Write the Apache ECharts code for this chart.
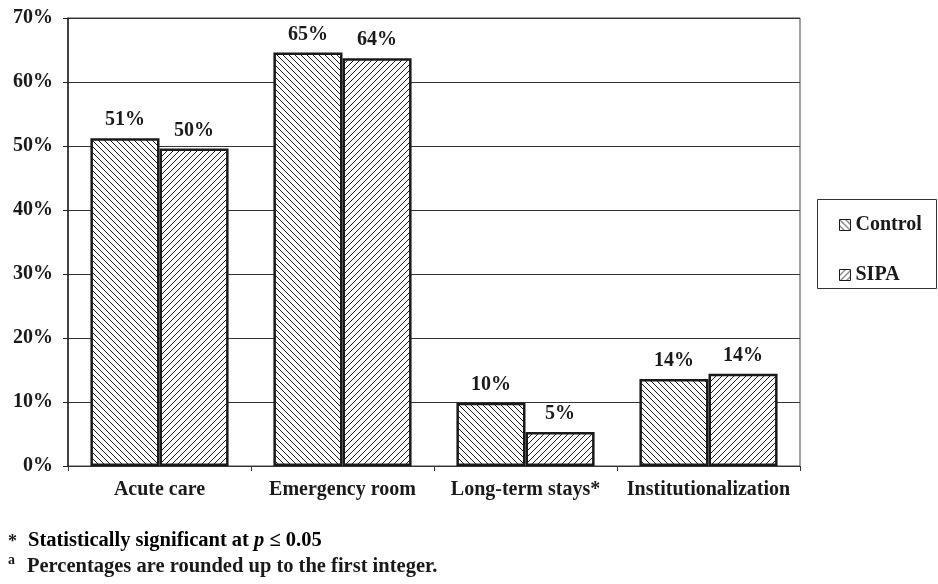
<!DOCTYPE html>
<html>
<head>
<meta charset="utf-8">
<script src="https://cdn.jsdelivr.net/npm/echarts@6/dist/echarts.min.js"></script>
<style>
  html, body { margin: 0; padding: 0; background: #fff; }
  #chart { width: 938px; height: 584px; }
</style>
</head>
<body>
<div id="chart"></div>
<script>
// Service use by group (percent of patients)
const categories = ['Acute care', 'Emergency room', 'Long-term stays*', 'Institutionalization'];
const controlValues = [51.2, 64.6, 9.9, 13.6];
const sipaValues = [49.6, 63.7, 5.3, 14.4];
const seriesNames = ['Control', 'SIPA'];
const yTicks = [0, 10, 20, 30, 40, 50, 60, 70];

const FONT = '"Liberation Serif", "Times New Roman", serif';
const INK = '#1a1a1a';

// Diagonal hatch fill: '\' for Control, '/' for SIPA
function hatch(backslash) {
  const s = 6;
  const c = document.createElement('canvas');
  c.width = s; c.height = s;
  const ctx = c.getContext('2d');
  ctx.fillStyle = '#ffffff';
  ctx.fillRect(0, 0, s, s);
  ctx.strokeStyle = INK;
  ctx.lineWidth = 1;
  ctx.beginPath();
  for (let k = -1; k <= 1; k++) {
    if (backslash) {
      ctx.moveTo(k * s, 0); ctx.lineTo(k * s + s, s);
    } else {
      ctx.moveTo(k * s, s); ctx.lineTo(k * s + s, 0);
    }
  }
  ctx.stroke();
  return { image: c, repeat: 'repeat' };
}

const chart = echarts.init(document.getElementById('chart'), null, { renderer: 'canvas' });

const labelStyle = {
  show: true,
  position: 'top',
  distance: 8,
  fontFamily: FONT,
  fontWeight: 'bold',
  fontSize: 20,
  color: INK,
  formatter: p => Math.round(p.value) + '%'
};

function barSeries(name, values, backslash) {
  return {
    name: name,
    type: 'bar',
    data: values,
    barGap: '0%',
    barCategoryGap: '24.5%',
    itemStyle: { color: hatch(backslash), borderColor: INK, borderWidth: 2.5 },
    label: labelStyle,
    emphasis: { disabled: true }
  };
}

chart.setOption({
  animation: false,
  backgroundColor: '#ffffff',
  grid: {
    left: 68, top: 18, width: 732, height: 448,
    show: true, borderColor: '#444', borderWidth: 1, backgroundColor: 'transparent'
  },
  legend: {
    data: seriesNames,
    orient: 'vertical',
    left: 834, top: 210,
    itemWidth: 11, itemHeight: 11,
    itemGap: 30,
    icon: 'rect',
    itemStyle: { borderWidth: 1, borderColor: INK },
    textStyle: { fontFamily: FONT, fontWeight: 'bold', fontSize: 20, color: INK }
  },
  xAxis: {
    type: 'category',
    data: categories,
    axisLine: { lineStyle: { color: '#333', width: 1 } },
    axisTick: { show: true, length: 5, lineStyle: { color: '#333' } },
    axisLabel: { interval: 0, margin: 14, fontFamily: FONT, fontWeight: 'bold', fontSize: 20, color: INK }
  },
  yAxis: {
    type: 'value',
    min: yTicks[0], max: yTicks[yTicks.length - 1], interval: 10,
    axisLine: { show: true, lineStyle: { color: '#222', width: 1.5 } },
    axisTick: { show: true, length: 5, lineStyle: { color: '#222' } },
    axisLabel: { margin: 15, fontFamily: FONT, fontWeight: 'bold', fontSize: 20, color: INK,
                 formatter: v => v + '%' },
    splitLine: { show: true, lineStyle: { color: '#333', width: 1 } }
  },
  graphic: [
    { type: 'rect', left: 815, top: 197, shape: { width: 119, height: 89 },
      style: { fill: 'none', stroke: '#333', lineWidth: 1 }, z: 1 },
    { type: 'text', left: 8, top: 533,
      style: { text: '*', fontFamily: FONT, fontWeight: 'bold', fontSize: 18, fill: INK } },
    { type: 'text', left: 28, top: 530,
      style: {
        text: '{n|Statistically significant at }{i|p}{n| ≤ 0.05}',
        rich: {
          n: { fontFamily: FONT, fontWeight: 'bold', fontSize: 20.5, color: INK },
          i: { fontFamily: FONT, fontWeight: 'bold', fontStyle: 'italic', fontSize: 20.5, color: INK }
        }
      } },
    { type: 'text', left: 8, top: 553,
      style: { text: 'a', fontFamily: FONT, fontWeight: 'bold', fontSize: 14, fill: INK } },
    { type: 'text', left: 27, top: 556,
      style: { text: 'Percentages are rounded up to the first integer.', fontFamily: FONT,
               fontWeight: 'bold', fontSize: 20.5, fill: INK } }
  ],
  series: [
    barSeries(seriesNames[0], controlValues, true),
    barSeries(seriesNames[1], sipaValues, false)
  ]
});
</script>
</body>
</html>
